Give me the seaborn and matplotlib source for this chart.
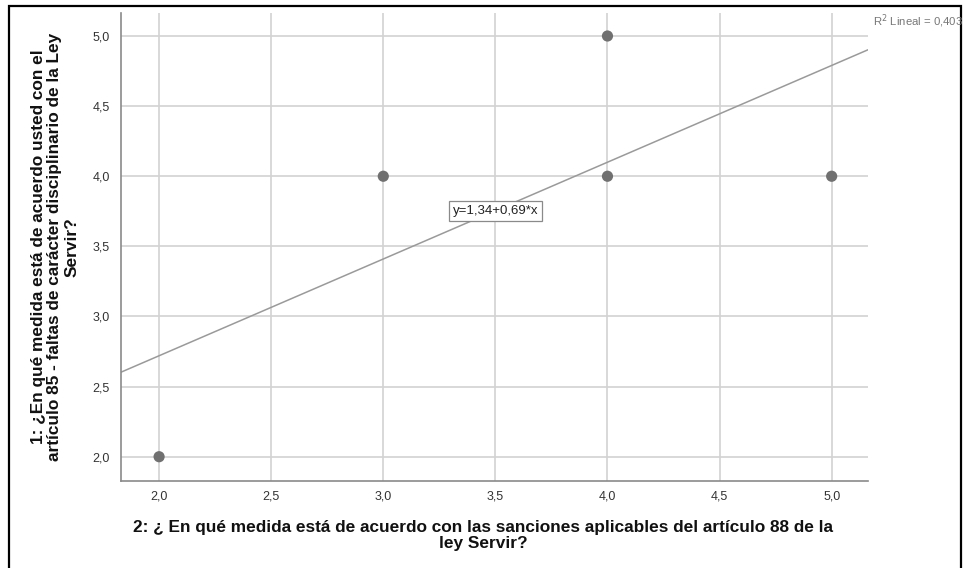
import matplotlib
matplotlib.use("Agg")
import matplotlib.pyplot as plt
import matplotlib.patches as mpatches
from matplotlib.ticker import FuncFormatter
import numpy as np
import pandas as pd
import seaborn as sns

# Responses (unique combinations)
x_vals = [2.0, 3.0, 4.0, 4.0, 5.0]
y_vals = [2.0, 4.0, 4.0, 5.0, 4.0]

# Linear fit reported for the sample
intercept = 1.34
slope = 0.69
r2 = 0.403

x_ticks = [2.0, 2.5, 3.0, 3.5, 4.0, 4.5, 5.0]
y_ticks = [2.0, 2.5, 3.0, 3.5, 4.0, 4.5, 5.0]

x_label = ("2: ¿ En qué medida está de acuerdo con las sanciones aplicables del artículo 88 de la\n"
           "ley Servir?")
y_label = ("1: ¿En qué medida está de acuerdo usted con el\n"
           "artículo 85 - faltas de carácter disciplinario de la Ley\n"
           "Servir?")

sns.set_theme(style="white")
plt.rcParams["font.family"] = ["Liberation Sans", "DejaVu Sans"]

fig = plt.figure(figsize=(9.64, 5.68), dpi=100)
ax = fig.add_axes([0.1255, 0.1532, 0.9004 - 0.1255, 0.9771 - 0.1532])

df = pd.DataFrame({"x": x_vals, "y": y_vals})

xlim = (1.83, 5.162)
ylim = (1.827, 5.164)
ax.set_xlim(*xlim)
ax.set_ylim(*ylim)

# grid
ax.set_axisbelow(True)
ax.grid(True, color="#d2d2d2", linewidth=1.2)

# fit line across the full x range
fx = np.array(xlim)
fit = pd.DataFrame({"x": fx, "y": intercept + slope * fx})
sns.lineplot(data=fit, x="x", y="y", ax=ax, color="#9a9a9a", linewidth=1.1, zorder=2)

sns.scatterplot(data=df, x="x", y="y", ax=ax, s=65, color="#707070",
                edgecolor="none", zorder=3)

# equation label on the line
ex = 3.5
ax.text(ex, intercept + slope * ex, "y=1,34+0,69*x", ha="center", va="center",
        fontsize=9.5, color="#222222", zorder=4,
        bbox=dict(boxstyle="square,pad=0.3", facecolor="white",
                  edgecolor="#8a8a8a", linewidth=0.9))

comma = FuncFormatter(lambda v, p: f"{v:.1f}".replace(".", ","))
ax.set_xticks(x_ticks)
ax.set_yticks(y_ticks)
ax.xaxis.set_major_formatter(comma)
ax.yaxis.set_major_formatter(comma)
ax.tick_params(axis="both", length=0, labelsize=9, colors="#333333")
ax.tick_params(axis="x", pad=7)
ax.tick_params(axis="y", pad=8)

for s in ["top", "right"]:
    ax.spines[s].set_visible(False)
for s in ["left", "bottom"]:
    ax.spines[s].set_color("#8a8a8a")
    ax.spines[s].set_linewidth(1.2)

ax.set_xlabel("")
ax.set_ylabel("")
fig.text(0.5015, 1 - 535.5 / 568, x_label, ha="center", va="center",
         fontsize=12.4, fontweight="bold", color="#111111", linespacing=1.15)
fig.text(55 / 964, 1 - 247 / 568, y_label, ha="center", va="center", rotation=90,
         fontsize=12.4, fontweight="bold", color="#111111", linespacing=1.15)

fig.text(963 / 964, 1 - 21 / 568, f"R$^2$ Lineal = {str(r2).replace('.', ',')}",
         ha="right", va="center", fontsize=8.2, color="#777777")

# outer frame
fig.patches.append(mpatches.Rectangle((8.5 / 964, -0.1), (960.5 - 8.5) / 964,
                                      1.1 - 6.5 / 568, transform=fig.transFigure,
                                      fill=False, edgecolor="black", linewidth=1.6))

fig.savefig("out.png", dpi=100)
